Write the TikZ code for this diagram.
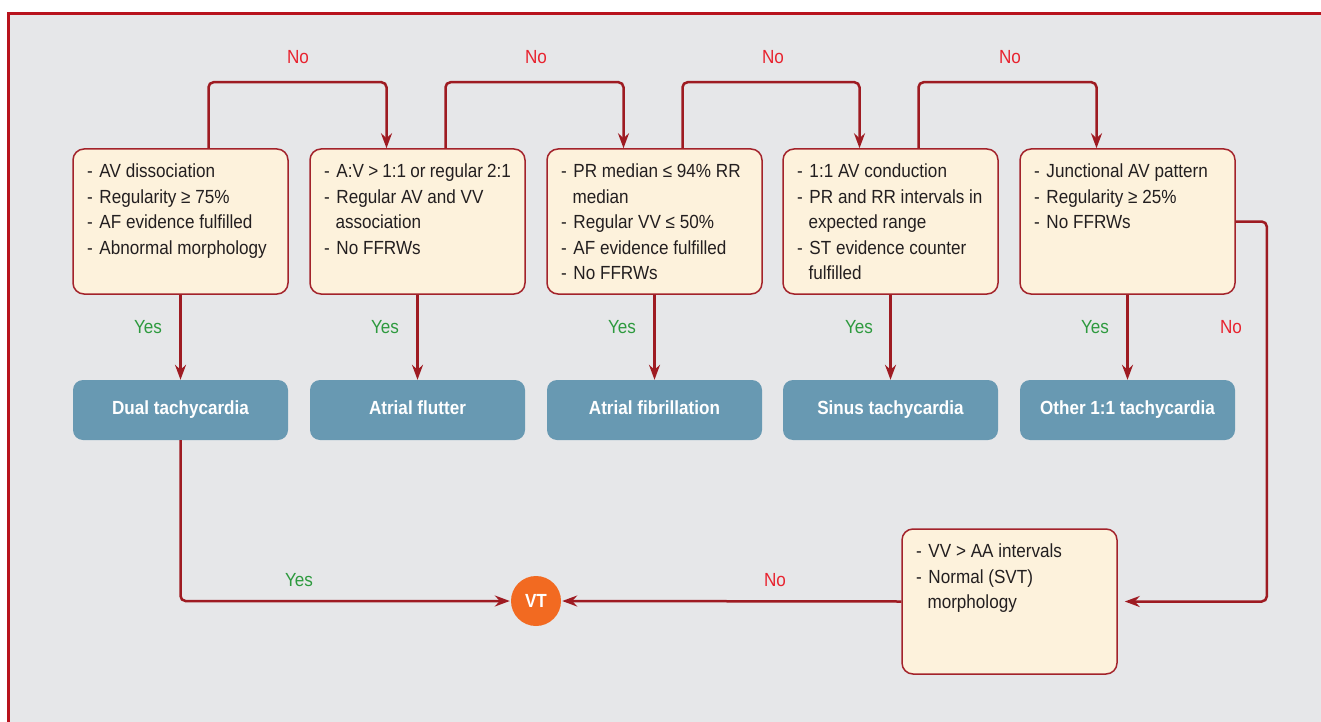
\documentclass[tikz,border=0pt]{standalone}
\usepackage{fontspec}
\setmainfont{Liberation Sans}[FakeStretch=0.9]
\usetikzlibrary{arrows.meta}

\definecolor{pagegray}{HTML}{E6E7E9}
\definecolor{framered}{HTML}{B8131D}
\definecolor{linkred}{HTML}{9E1B22}
\definecolor{boxedge}{HTML}{A3232B}
\definecolor{boxfill}{HTML}{FDF2DC}
\definecolor{resultblue}{HTML}{6899B2}
\definecolor{vtorange}{HTML}{F26A21}
\definecolor{yesgreen}{HTML}{2D9A3E}
\definecolor{nored}{HTML}{E8232F}
\definecolor{inktext}{HTML}{231F20}

% criteria list: fixed-height box, text at the top
\newcommand{\crit}[1]{\parbox[t][115pt][t]{187pt}{\raggedright#1}}
\newcommand{\bl}{\makebox[12.5pt][l]{-}}
\newcommand{\cont}{\hspace*{11.5pt}}

\tikzset{
  txt/.style={font=\fontsize{19}{25.5}\selectfont},
  critbox/.style={txt, draw=boxedge, fill=boxfill, line width=1.5pt,
    rounded corners=11pt, inner xsep=14pt, inner ysep=15pt, text=inktext},
  result/.style={fill=resultblue, rounded corners=10pt, minimum width=215pt,
    minimum height=60pt, text=white, text height=13.5pt, text depth=4pt,
    font=\fontsize{19}{22}\selectfont\bfseries},
  endpt/.style={circle, fill=vtorange, minimum size=50pt, inner sep=0pt,
    text=white, font=\fontsize{19}{22}\selectfont\bfseries},
  link/.style={draw=linkred, line width=2.5pt, rounded corners=5pt,
    -{Stealth[length=15pt,width=11pt,inset=5pt]}},
  yes/.style={txt, text=yesgreen},
  no/.style={txt, text=nored}
}

\begin{document}
\begin{tikzpicture}[x=1pt,y=-1pt]
\useasboundingbox (0,0) rectangle (1321,722);
\fill[white] (0,0) rectangle (1321,722);
\draw[framered, line width=3pt, fill=pagegray] (8.5,13.5) rectangle (1345,745);

% decision criteria
\node[critbox] (c1) at (180.5,221.5) {\crit{\bl AV dissociation\\\bl Regularity ≥ 75\%\\\bl AF evidence fulfilled\\\bl Abnormal morphology}};
\node[critbox] (c2) at (417.5,221.5) {\crit{\bl A:V > 1:1 or regular 2:1\\\bl Regular AV and VV\\\cont association\\\bl No FFRWs}};
\node[critbox] (c3) at (654.5,221.5) {\crit{\bl PR median ≤ 94\% RR\\\cont median\\\bl Regular VV ≤ 50\%\\\bl AF evidence fulfilled\\\bl No FFRWs}};
\node[critbox] (c4) at (890.5,221.5) {\crit{\bl 1:1 AV conduction\\\bl PR and RR intervals in\\\cont expected range\\\bl ST evidence counter\\\cont fulfilled}};
\node[critbox] (c5) at (1127.5,221.5) {\crit{\bl Junctional AV pattern\\\bl Regularity ≥ 25\%\\\bl No FFRWs}};
\node[critbox] (c6) at (1009.5,601.5) {\crit{\bl VV > AA intervals\\\bl Normal (SVT)\\\cont morphology}};

% diagnoses
\node[result] (o1) at (180.5,410) {Dual tachycardia};
\node[result] (o2) at (417.5,410) {Atrial flutter};
\node[result] (o3) at (654.5,410) {Atrial fibrillation};
\node[result] (o4) at (890.5,410) {Sinus tachycardia};
\node[result] (o5) at (1127.5,410) {Other 1:1 tachycardia};
\node[endpt] (vt) at (536,601) {VT};

% "No" hops along the top
\draw[link] ([xshift=28pt]c1.north) -- ++(0,-66) -| ([xshift=-31pt]c2.north);
\draw[link] ([xshift=28pt]c2.north) -- ++(0,-66) -| ([xshift=-31pt]c3.north);
\draw[link] ([xshift=28pt]c3.north) -- ++(0,-66) -| ([xshift=-31pt]c4.north);
\draw[link] ([xshift=28pt]c4.north) -- ++(0,-66) -| ([xshift=-31pt]c5.north);
\node[no] (n1) at (298,57) {No};
\node[no] (n2) at (536,57) {No};
\node[no] (n3) at (773,57) {No};
\node[no] (n4) at (1010,57) {No};

% "Yes" drops to the diagnoses
\draw[link] (c1.south) -- (o1.north);
\draw[link] (c2.south) -- (o2.north);
\draw[link] (c3.south) -- (o3.north);
\draw[link] (c4.south) -- (o4.north);
\draw[link] (c5.south) -- (o5.north);
\node[yes] (y1) at (148,327) {Yes};
\node[yes] (y2) at (385,327) {Yes};
\node[yes] (y3) at (622,327) {Yes};
\node[yes] (y4) at (859,327) {Yes};
\node[yes] (y5) at (1095,327) {Yes};

% last criterion and the VT end point
\draw[link, shorten >=7pt] (c5.east) -- ++(31,0) |- (c6.east);
\node[no] (n5) at (1231,327) {No};
\draw[link, shorten >=1pt] (o1.south) |- (vt.west);
\node[yes] (y6) at (299,580) {Yes};
\draw[link, shorten >=1pt] (c6.west) -- (vt.east);
\node[no] (n6) at (775,580) {No};
\end{tikzpicture}
\end{document}
